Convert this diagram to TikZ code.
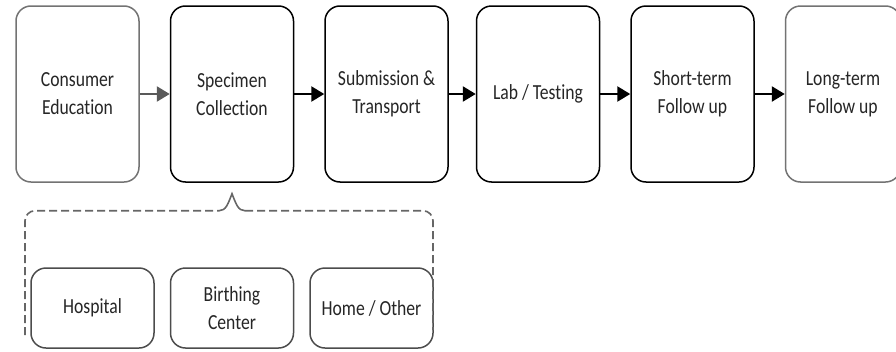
\documentclass[tikz,border=0pt]{standalone}
\usepackage{fontspec}
\setmainfont{Carlito}[FakeStretch=0.82,Ligatures=NoCommon]
\usepackage{tikz}
\usetikzlibrary{arrows.meta,positioning,calc}
\usepackage{xcolor}

\begin{document}
\begin{tikzpicture}[x=1pt,y=-1pt,>={Triangle[length=13pt,width=15pt]},node distance=30pt and 30pt,
  stage/.style={draw=black,line width=1.5pt,rounded corners=15pt,fill=white,align=center,minimum width=123pt,minimum height=176pt,inner sep=2pt,text=black!85,font=\fontsize{21.5}{28}\selectfont},
  outer/.style={stage,draw=black!55},
  site/.style={stage,draw=black!70,minimum height=80pt},
  arr/.style={->,line width=2.5pt,draw=black},
  brace/.style={dashed,dash pattern=on 8pt off 4pt,line width=1.6pt,draw=black!60}]
\useasboundingbox (0,0) rectangle (896,351);
\node[outer] (educ) at (77.5,94) {Consumer\\Education};
\node[stage, right=of educ] (spec) {Specimen\\Collection};
\node[stage, right=of spec] (subm) {Submission \&\\Transport};
\node[stage, right=27pt of subm] (lab) {Lab / Testing};
\node[stage, right=of lab] (short) {Short-term\\Follow up};
\node[outer, right=of short, minimum width=115pt] (long) {Long-term\\Follow up};
\draw[arr,draw=black!65] (educ)--(spec);
\draw[arr] (spec)--(subm);
\draw[arr] (subm)--(lab);
\draw[arr] (lab)--(short);
\draw[arr] (short)--(long);
% collection sites
\node[site] (hosp) at (92.5,308) {Hospital};
\node[site, right=15pt of hosp] (birth) {Birthing\\Center};
\node[site, right=15pt of birth] (home) {Home / Other};
\coordinate (tip) at ($(spec.south)+(0,11)$);
\coordinate (pl) at ($(tip)+(-13,17)$);
\coordinate (pr) at ($(tip)+(13,17)$);
\coordinate (bl) at (25,335);
\coordinate (br) at (433,330);
\draw[brace,rounded corners=10pt] (bl) |- (pl);
\draw[brace,rounded corners=10pt] (pr) -| (br);
\draw[brace,solid] (pl) .. controls ($(tip)+(-6,17)$) and ($(tip)+(-4,10)$) .. (tip)
  .. controls ($(tip)+(4,10)$) and ($(tip)+(6,17)$) .. (pr);
\end{tikzpicture}
\end{document}
